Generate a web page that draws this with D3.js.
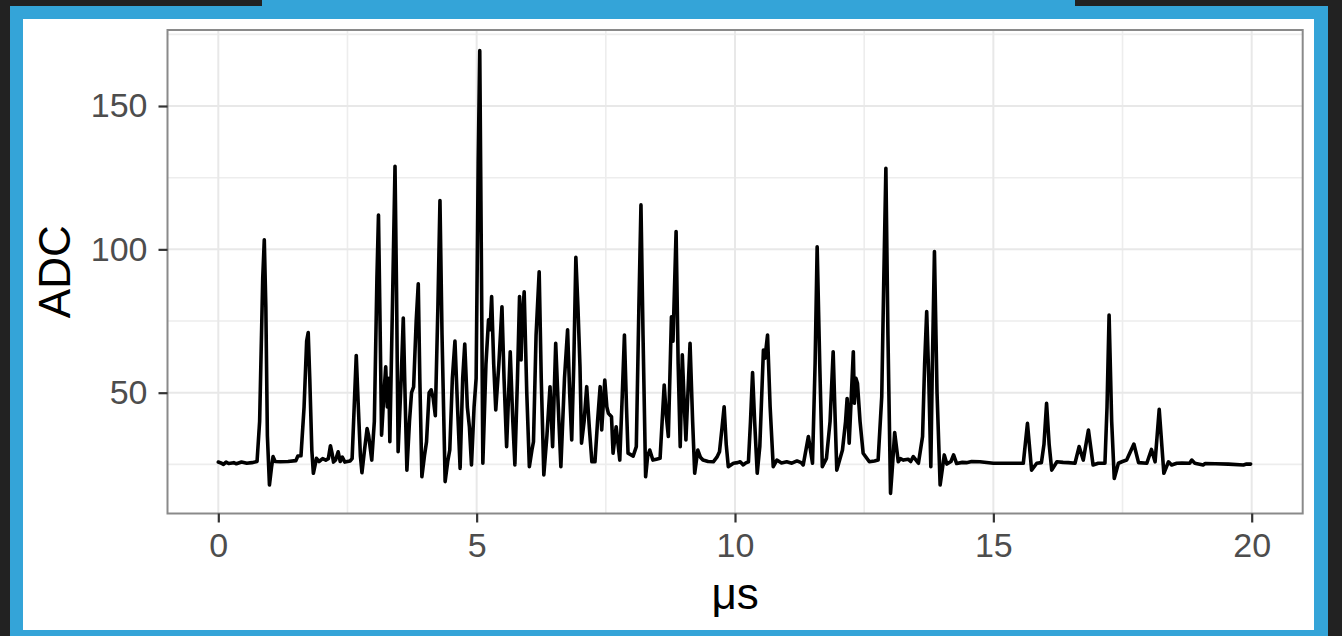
<!DOCTYPE html>
<html>
<head>
<meta charset="utf-8">
<script src="https://cdn.jsdelivr.net/npm/d3@7"></script>
<style>
  html, body { margin: 0; padding: 0; background: #222222; }
  svg { display: block; }
</style>
</head>
<body>
<script>
// Waveform samples: time in microseconds and ADC counts
const timeUs = [
  0.00, 0.05, 0.10, 0.15, 0.20, 0.30, 0.35, 0.45, 0.55, 0.65, 0.75, 0.80, 0.86, 0.89, 0.92, 0.95, 0.99, 1.03, 1.06, 1.10,
  1.20, 1.35, 1.50, 1.54, 1.60, 1.66, 1.71, 1.74, 1.77, 1.81, 1.84, 1.90, 1.95, 2.02, 2.08, 2.13, 2.17, 2.20, 2.23, 2.27,
  2.32, 2.36, 2.40, 2.45, 2.55, 2.59, 2.63, 2.67, 2.71, 2.75, 2.78, 2.83, 2.88, 2.91, 2.97, 3.02, 3.07, 3.10, 3.13, 3.16,
  3.20, 3.24, 3.27, 3.30, 3.32, 3.37, 3.42, 3.45, 3.48, 3.54, 3.58, 3.62, 3.65, 3.70, 3.74, 3.78, 3.83, 3.87, 3.90, 3.94,
  3.99, 4.03, 4.08, 4.12, 4.16, 4.20, 4.25, 4.29, 4.33, 4.39, 4.44, 4.48, 4.53, 4.58, 4.63, 4.68, 4.73, 4.77, 4.82, 4.86,
  4.90, 4.95, 4.99, 5.03, 5.06, 5.09, 5.12, 5.18, 5.23, 5.26, 5.29, 5.33, 5.37, 5.43, 5.49, 5.53, 5.58, 5.65, 5.70, 5.74,
  5.79, 5.83, 5.86, 5.88, 5.92, 5.97, 6.02, 6.07, 6.10, 6.15, 6.21, 6.25, 6.30, 6.36, 6.42, 6.47, 6.53, 6.58, 6.63, 6.70,
  6.76, 6.80, 6.84, 6.88, 6.92, 6.96, 7.00, 7.03, 7.08, 7.13, 7.18, 7.23, 7.29, 7.34, 7.39, 7.42, 7.48, 7.52, 7.55, 7.61,
  7.64, 7.70, 7.77, 7.82, 7.86, 7.90, 7.93, 8.03, 8.09, 8.14, 8.18, 8.22, 8.27, 8.31, 8.35, 8.41, 8.48, 8.55, 8.59, 8.63,
  8.67, 8.71, 8.77, 8.80, 8.86, 8.90, 8.94, 8.98, 9.02, 9.05, 9.13, 9.18, 9.22, 9.28, 9.33, 9.38, 9.48, 9.58, 9.65, 9.70,
  9.75, 9.79, 9.83, 9.87, 9.97, 10.05, 10.10, 10.16, 10.21, 10.26, 10.30, 10.34, 10.38, 10.43, 10.48, 10.55, 10.58, 10.63, 10.68, 10.74,
  10.81, 10.90, 11.00, 11.10, 11.20, 11.28, 11.32, 11.42, 11.50, 11.55, 11.59, 11.64, 11.69, 11.77, 11.84, 11.90, 11.94, 11.97, 12.08, 12.14,
  12.17, 12.21, 12.29, 12.31, 12.34, 12.37, 12.42, 12.48, 12.60, 12.70, 12.77, 12.84, 12.88, 12.92, 12.96, 13.01, 13.05, 13.09, 13.16, 13.20,
  13.26, 13.35, 13.40, 13.45, 13.55, 13.63, 13.67, 13.71, 13.75, 13.79, 13.82, 13.86, 13.91, 13.97, 14.05, 14.10, 14.18, 14.23, 14.29, 14.40,
  14.48, 14.58, 14.74, 15.00, 15.30, 15.58, 15.66, 15.74, 15.84, 15.93, 15.98, 16.03, 16.08, 16.13, 16.23, 16.35, 16.45, 16.58, 16.66, 16.74,
  16.84, 16.93, 17.03, 17.16, 17.20, 17.24, 17.29, 17.34, 17.42, 17.50, 17.58, 17.72, 17.81, 17.97, 18.06, 18.13, 18.21, 18.30, 18.39, 18.45,
  18.55, 18.65, 18.80, 18.84, 18.90, 19.06, 19.10, 19.30, 19.55, 19.84, 19.90, 19.98
];
const adc = [
  25.8, 25.5, 25.0, 25.8, 25.3, 25.6, 25.2, 25.8, 25.4, 25.6, 26.0, 40, 90, 103.3, 80, 35, 17.8, 24, 27.7, 26.0,
  25.9, 26.0, 26.3, 27.9, 28, 45, 68, 71, 55, 30, 21.9, 27.1, 26, 27, 26.5, 27, 31.5, 29, 25.8, 26.5,
  29.4, 26, 27.5, 25.8, 26.2, 27, 45, 63, 45, 28, 22.1, 30, 37.5, 35, 26.5, 40, 90, 112, 75, 35.2,
  48, 59, 45, 55, 32.9, 80, 129, 85, 29.4, 55, 76, 45, 23.0, 40, 50, 52, 75, 88, 55, 20.7,
  28, 32.9, 50, 51, 48, 42, 80, 117, 70, 19.0, 26, 30, 55, 68, 45, 23.6, 55, 67, 45, 38,
  24.8, 45, 55, 130, 169.3, 100, 25.4, 60, 75.4, 72, 83.5, 60, 44, 60, 80, 55, 31.2, 64.3, 40, 24.8,
  55, 83.5, 61.4, 75, 85.2, 50, 24.2, 30, 32.9, 70, 92.2, 55, 21.3, 35, 52.1, 31.2, 67.2, 45, 24.2, 55,
  71.9, 50, 33.5, 60, 97.2, 80, 59.1, 32.4, 40, 52.1, 38, 25.9, 25.9, 40, 52.1, 37.0, 54.4, 45, 42.8, 41.6,
  28.9, 38.1, 26.5, 50, 70.1, 45, 28.9, 27.9, 31.2, 80, 115.5, 70, 20.7, 28, 30.0, 26.5, 26.8, 27.1, 40, 52.7,
  42, 34.7, 76.5, 68, 106.2, 60, 31.2, 63.2, 45, 33.5, 67.2, 40, 21.9, 30.0, 27.5, 26.5, 26, 25.9, 27.5, 29.4,
  38, 45.1, 32, 24.2, 25.4, 25.6, 25.9, 24.8, 25.5, 25.9, 40, 57.0, 40, 21.9, 31.2, 64.9, 62, 70.1, 45, 24.2,
  26.5, 25.5, 25.9, 25.4, 26.2, 25.6, 24.8, 34.7, 25.4, 60, 100.9, 60, 24.2, 27.1, 40, 64.3, 40, 23.0, 30.0, 40,
  48.0, 32.4, 64.3, 46.3, 55, 53.3, 40, 28.9, 25.9, 26.2, 26.5, 48.6, 90, 128.3, 70, 14.9, 25, 36.1, 25.9, 27,
  26.5, 26.8, 26, 27.7, 25.4, 34.7, 60, 78.3, 55, 24.2, 60, 99.2, 50, 17.8, 28.3, 25.1, 26, 28.3, 25.3, 25.7,
  25.6, 26, 25.9, 25.4, 25.4, 25.4, 39.3, 23.0, 25.4, 25.6, 32, 46.3, 32, 23.0, 25.9, 25.7, 25.6, 25.4, 31.2, 26.5,
  37.0, 24.8, 25.4, 25.4, 45, 77.1, 40, 20.1, 25.4, 26, 26.5, 32.1, 25.6, 25.4, 30.2, 25.9, 44.2, 21.9, 25.9, 24.8,
  25.4, 25.5, 25.4, 26.5, 25.4, 24.8, 25.3, 25.2, 25.1, 24.8, 25.1, 25.1
];

// Axis breaks and labels
const xMajor = [0, 5, 10, 15, 20];
const xMinor = [2.5, 7.5, 12.5, 17.5];
const yMajor = [50, 100, 150];
const yMinor = [25, 75, 125, 175];
const xTitle = "μs";
const yTitle = "ADC";

const W = 1342, H = 636;
const panel = { left: 167.5, right: 1302.7, top: 30, bottom: 513.5 };
const FONT = "'Liberation Sans', Arial, Helvetica, sans-serif";

const svg = d3.select("body").append("svg")
  .attr("width", W).attr("height", H)
  .attr("font-family", FONT);

// Framing: dark backdrop, blue border, white card
svg.append("rect").attr("x", 0).attr("y", 0).attr("width", W).attr("height", H).attr("fill", "#222222");
svg.append("rect").attr("x", 262).attr("y", 0).attr("width", 813).attr("height", 8).attr("fill", "#34a4d8");
svg.append("rect").attr("x", 10).attr("y", 6).attr("width", 1318).attr("height", 630).attr("fill", "#34a4d8");
svg.append("rect").attr("x", 23).attr("y", 19).attr("width", 1291).attr("height", 611).attr("fill", "#ffffff");

// Scales
const x = d3.scaleLinear().domain([0, 20]).range([218.3, 1251.7]);
const y = d3.scaleLinear().domain([50, 150]).range([392.7, 106.0]);

const g = svg.append("g");

// Grid
g.selectAll("line.xminor").data(xMinor).join("line")
  .attr("x1", d => x(d)).attr("x2", d => x(d))
  .attr("y1", panel.top).attr("y2", panel.bottom)
  .attr("stroke", "#ededed").attr("stroke-width", 1.6);
g.selectAll("line.yminor").data(yMinor).join("line")
  .attr("x1", panel.left).attr("x2", panel.right)
  .attr("y1", d => y(d)).attr("y2", d => y(d))
  .attr("stroke", "#ededed").attr("stroke-width", 1.6);
g.selectAll("line.xmajor").data(xMajor).join("line")
  .attr("x1", d => x(d)).attr("x2", d => x(d))
  .attr("y1", panel.top).attr("y2", panel.bottom)
  .attr("stroke", "#e8e8e8").attr("stroke-width", 2);
g.selectAll("line.ymajor").data(yMajor).join("line")
  .attr("x1", panel.left).attr("x2", panel.right)
  .attr("y1", d => y(d)).attr("y2", d => y(d))
  .attr("stroke", "#e8e8e8").attr("stroke-width", 2);

// Trace
const pts = timeUs.map((t, i) => [t, adc[i]]);
g.append("path")
  .datum(pts)
  .attr("fill", "none")
  .attr("stroke", "#000")
  .attr("stroke-width", 3.6)
  .attr("stroke-linejoin", "round")
  .attr("stroke-linecap", "round")
  .attr("d", d3.line().x(d => x(d[0])).y(d => y(d[1])));

// Panel border
g.append("rect")
  .attr("x", panel.left).attr("y", panel.top)
  .attr("width", panel.right - panel.left).attr("height", panel.bottom - panel.top)
  .attr("fill", "none").attr("stroke", "#8a8a8a").attr("stroke-width", 2);

// Axes
const xAxis = d3.axisBottom(x).tickValues(xMajor).tickSize(9).tickPadding(10).tickFormat(d3.format("d"));
const yAxis = d3.axisLeft(y).tickValues(yMajor).tickSize(9).tickPadding(11).tickFormat(d3.format("d"));

const gx = svg.append("g").attr("transform", `translate(0,${panel.bottom})`).call(xAxis);
const gy = svg.append("g").attr("transform", `translate(${panel.left},0)`).call(yAxis);
[gx, gy].forEach(a => {
  a.select(".domain").remove();
  a.selectAll(".tick line").attr("stroke", "#333333").attr("stroke-width", 2.2);
  a.selectAll(".tick text")
    .attr("fill", "#4d4d4d")
    .attr("font-size", 34)
    .attr("font-family", FONT);
});

// Titles
svg.append("text")
  .attr("x", (panel.left + panel.right) / 2).attr("y", 609)
  .attr("text-anchor", "middle")
  .attr("font-size", 44).attr("fill", "#000")
  .text(xTitle);
svg.append("text")
  .attr("transform", `translate(70,${(panel.top + panel.bottom) / 2}) rotate(-90)`)
  .attr("text-anchor", "middle")
  .attr("font-size", 44).attr("fill", "#000")
  .text(yTitle);
</script>
</body>
</html>
